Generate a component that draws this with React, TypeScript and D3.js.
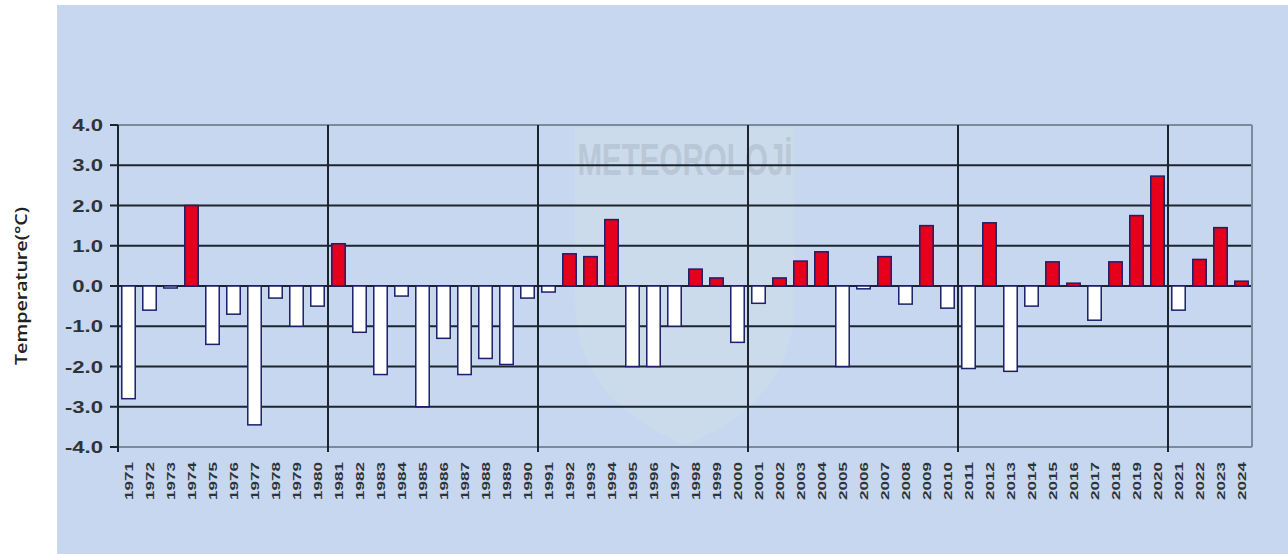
import React, { useEffect, useRef } from "react";
import * as d3 from "d3";

const years = [
  "1971", "1972", "1973", "1974", "1975", "1976", "1977", "1978", "1979", "1980",
  "1981", "1982", "1983", "1984", "1985", "1986", "1987", "1988", "1989", "1990",
  "1991", "1992", "1993", "1994", "1995", "1996", "1997", "1998", "1999", "2000",
  "2001", "2002", "2003", "2004", "2005", "2006", "2007", "2008", "2009", "2010",
  "2011", "2012", "2013", "2014", "2015", "2016", "2017", "2018", "2019", "2020",
  "2021", "2022", "2023", "2024",
];

const anomalies = [
  -2.8, -0.6, -0.05, 2.0, -1.45, -0.7, -3.45, -0.3, -1.0, -0.5,
  1.05, -1.15, -2.2, -0.25, -3.0, -1.3, -2.2, -1.8, -1.95, -0.3,
  -0.15, 0.8, 0.73, 1.65, -2.0, -2.0, -1.0, 0.42, 0.2, -1.4,
  -0.43, 0.2, 0.62, 0.85, -2.0, -0.07, 0.73, -0.45, 1.5, -0.55,
  -2.05, 1.57, -2.12, -0.5, 0.6, 0.07, -0.85, 0.6, 1.75, 2.73,
  -0.6, 0.66, 1.45, 0.12,
];

const yTicks = [4, 3, 2, 1, 0, -1, -2, -3, -4];
// decade separators after these years
const separators = ["1980", "1990", "2000", "2010", "2020"];

const W = 1288;
const H = 554;
const left = 118;
const right = 1252;
const top = 125;
const bottom = 447;

export default function App() {
  const ref = useRef<SVGSVGElement>(null);

  useEffect(() => {
    document.body.style.margin = "0";
    const svg = d3.select(ref.current);
    svg.selectAll("*").remove();

    const x = d3.scaleBand().domain(years).range([left, right]).paddingInner(0.36).paddingOuter(0.18);
    const y = d3.scaleLinear().domain([-4, 4]).range([bottom, top]);

    // blue panel
    svg.append("rect").attr("x", 57).attr("y", 5).attr("width", W - 57).attr("height", H - 5).attr("fill", "#c6d7ef");

    // faint watermark
    svg.append("path")
      .attr("d", "M575,128 L795,128 L795,300 Q795,400 685,445 Q575,400 575,300 Z")
      .attr("fill", "#d9e3e6").attr("opacity", 0.3);
    svg.append("text")
      .attr("x", 685).attr("y", 175)
      .attr("text-anchor", "middle")
      .attr("font-family", "Liberation Sans, Arial, sans-serif")
      .attr("font-weight", "bold")
      .attr("font-size", 44)
      .attr("textLength", 215)
      .attr("lengthAdjust", "spacingAndGlyphs")
      .attr("fill", "#8d96a0")
      .attr("opacity", 0.28)
      .text("METEOROLOJİ");

    // horizontal grid
    svg.append("g").selectAll("line")
      .data(yTicks.filter((t) => t !== 4 && t !== -4))
      .join("line")
      .attr("x1", left).attr("x2", right)
      .attr("y1", (d) => y(d)).attr("y2", (d) => y(d))
      .attr("stroke", "#1c252d").attr("stroke-width", 2.2);

    // frame
    svg.append("line").attr("x1", left).attr("x2", right).attr("y1", y(4)).attr("y2", y(4))
      .attr("stroke", "#7b8b9c").attr("stroke-width", 2);
    svg.append("line").attr("x1", left).attr("x2", right).attr("y1", y(-4)).attr("y2", y(-4))
      .attr("stroke", "#7b8b9c").attr("stroke-width", 2);
    svg.append("line").attr("x1", right).attr("x2", right).attr("y1", y(4)).attr("y2", y(-4))
      .attr("stroke", "#7b8b9c").attr("stroke-width", 2);

    // decade separators
    const step = x.step();
    svg.append("g").selectAll("line")
      .data(separators)
      .join("line")
      .attr("x1", (d) => (x(d) as number) - step * 0.18 + step)
      .attr("x2", (d) => (x(d) as number) - step * 0.18 + step)
      .attr("y1", y(4)).attr("y2", y(-4) + 5)
      .attr("stroke", "#1c252d").attr("stroke-width", 2);

    // bars
    svg.append("g").selectAll("rect")
      .data(anomalies)
      .join("rect")
      .attr("x", (d, i) => x(years[i]) as number)
      .attr("width", x.bandwidth())
      .attr("y", (d) => y(Math.max(0, d)))
      .attr("height", (d) => Math.abs(y(d) - y(0)))
      .attr("fill", (d) => (d > 0 ? "#e5001b" : "#ffffff"))
      .attr("stroke", "#1c1f6b")
      .attr("stroke-width", 1.5);

    // left axis
    svg.append("line").attr("x1", left).attr("x2", left).attr("y1", y(4)).attr("y2", y(-4) + 5)
      .attr("stroke", "#1c252d").attr("stroke-width", 2);
    svg.append("g").selectAll("line")
      .data(yTicks)
      .join("line")
      .attr("x1", left - 8).attr("x2", left)
      .attr("y1", (d) => y(d)).attr("y2", (d) => y(d))
      .attr("stroke", "#1c252d").attr("stroke-width", 2);

    svg.append("g").selectAll("text")
      .data(yTicks)
      .join("text")
      .attr("transform", (d) => `translate(103,${y(d)}) scale(1.3,1)`)
      .attr("text-anchor", "end")
      .attr("dominant-baseline", "central")
      .attr("font-family", "Liberation Sans, Arial, sans-serif")
      .attr("font-weight", "bold")
      .attr("font-size", 17)
      .attr("fill", "#2e3338")
      .text((d) => d.toFixed(1));

    // x labels
    svg.append("g").selectAll("text")
      .data(years)
      .join("text")
      .attr("transform", (d) => `translate(${(x(d) as number) + x.bandwidth() / 2},462) rotate(-90)`)
      .attr("text-anchor", "end")
      .attr("dominant-baseline", "central")
      .attr("font-family", "Liberation Sans, Arial, sans-serif")
      .attr("font-weight", "bold")
      .attr("font-size", 11)
      .attr("textLength", 38)
      .attr("lengthAdjust", "spacingAndGlyphs")
      .attr("fill", "#2e3338")
      .text((d) => d);

    // y title
    svg.append("text")
      .attr("transform", `translate(21,${y(0)}) rotate(-90)`)
      .attr("text-anchor", "middle")
      .attr("dominant-baseline", "central")
      .attr("font-family", "Open Sans, sans-serif")
      .attr("font-weight", 600)
      .attr("font-size", 16)
      .attr("textLength", 158)
      .attr("lengthAdjust", "spacingAndGlyphs")
      .attr("fill", "#222")
      .text("Temperature(°C)");
  }, []);

  return (
    <svg ref={ref} width={W} height={H} style={{ display: "block", background: "#ffffff" }} />
  );
}
